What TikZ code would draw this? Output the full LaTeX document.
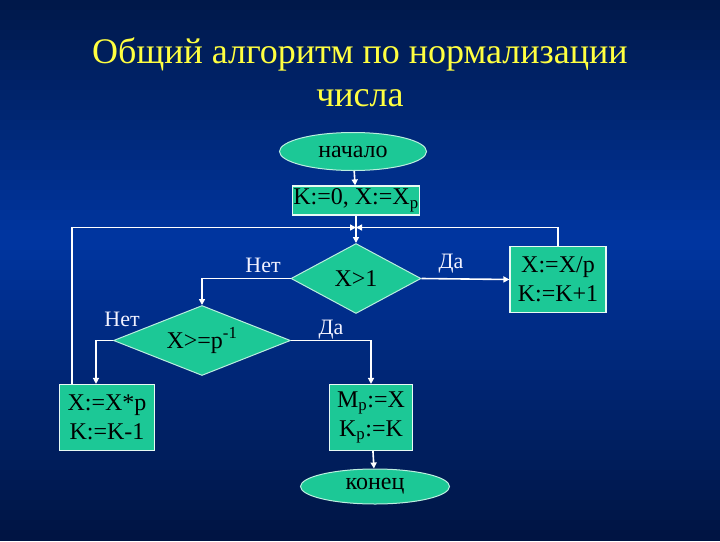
\documentclass[tikz,border=0pt]{standalone}
\usepackage{fontspec}
\setmainfont{Liberation Serif}
\usetikzlibrary{arrows.meta, shapes.geometric}

\definecolor{slidetop}{RGB}{0,24,72}
\definecolor{slidemid}{RGB}{0,54,162}
\definecolor{slidebot}{RGB}{0,20,66}
\definecolor{stepfill}{RGB}{28,200,150}
\definecolor{titleyellow}{RGB}{255,255,64}

\tikzset{
  flowbox/.style={rectangle, draw=white!90!stepfill, line width=1.2pt, fill=stepfill, text=black, inner sep=0pt, align=center, font=\fontsize{24}{29}\selectfont},
  flowend/.style={ellipse, draw=white!70!stepfill, line width=1pt, fill=stepfill, text=black, inner sep=0pt, font=\fontsize{24}{29}\selectfont},
  flowcheck/.style={diamond, draw=white!70!stepfill, line width=1pt, fill=stepfill, text=black, inner sep=0pt, font=\fontsize{24}{29}\selectfont},
  flowline/.style={draw=white, line width=1.6pt, -{Triangle[length=6pt,width=6pt]}},
  flowlabel/.style={text=white!95!blue, font=\fontsize{22}{26}\selectfont, inner sep=0pt}
}

\begin{document}
\begin{tikzpicture}[x=1pt, y=-1pt]
  % Slide background, banded from dark to bright to dark
  \foreach \band in {0,...,53} {
    \pgfmathsetmacro{\mid}{\band*10+5}
    \pgfmathtruncatemacro{\upmix}{min(100,\mid/240*100)}
    \pgfmathtruncatemacro{\downmix}{min(100,(540-\mid)/300*100)}
    \ifdim\mid pt<240pt
      \colorlet{bandcol}{slidemid!\upmix!slidetop}
    \else
      \colorlet{bandcol}{slidemid!\downmix!slidebot}
    \fi
    \fill[bandcol] (0,\band*10-0.5) rectangle (720,\band*10+10.5);
  }
  \useasboundingbox (0,0) rectangle (720,540);

  % Title
  \node[text=titleyellow, font=\fontsize{36}{43}\selectfont, anchor=base] (title) at (360,63) {Общий алгоритм по нормализации};
  \node[text=titleyellow, font=\fontsize{36}{43}\selectfont, anchor=base] (titlecont) at (360,106) {числа};

  % Blocks
  \node[flowend, minimum width=147pt, minimum height=38pt] (start) at (353,151) {начало};
  \node[flowbox, minimum width=127pt, minimum height=29pt] (init) at (356,200) {K:=0, X:=X\textsubscript{p}};
  \node[flowcheck, minimum width=130pt, minimum height=70pt, aspect=1.86] (big) at (356,278) {X>1};
  \node[flowcheck, minimum width=177pt, minimum height=70pt, aspect=2.5] (small) at (202,340) {X>=p\textsuperscript{-1}};
  \node[flowbox, minimum width=96pt, minimum height=66pt] (div) at (558,279) {X:=X/p\\K:=K+1};
  \node[flowbox, minimum width=95pt, minimum height=66pt] (mul) at (107,417) {X:=X*p\\K:=K-1};
  \node[flowbox, minimum width=83pt, minimum height=66pt] (save) at (371,417) {M\textsubscript{p}:=X\\K\textsubscript{p}:=K};
  \node[flowend, minimum width=149pt, minimum height=35pt] (stop) at (375,486) {конец};

  % Loop junction
  \coordinate (join) at (init.south |- 0,227);

  % Connectors
  \draw[flowline] (start) -- (init);
  \draw[flowline] (init) -- (big);
  \draw[flowline] (big.west) -| (small.north);
  \draw[flowline] (big.east) -- (div.west);
  \draw[flowline] (div.north) |- (join);
  \draw[flowline] (small.west) -| ([xshift=-11pt]mul.north);
  \draw[flowline] ([xshift=-35pt]mul.north) |- (join);
  \draw[flowline] (small.east) -| (save.north);
  \draw[flowline] (save) -- (stop);

  % Branch labels
  \node[flowlabel] (no1) at (263,265) {Нет};
  \node[flowlabel] (yes1) at (451,263) {Да};
  \node[flowlabel] (no2) at (122,319) {Нет};
  \node[flowlabel] (yes2) at (331,329) {Да};
\end{tikzpicture}
\end{document}
